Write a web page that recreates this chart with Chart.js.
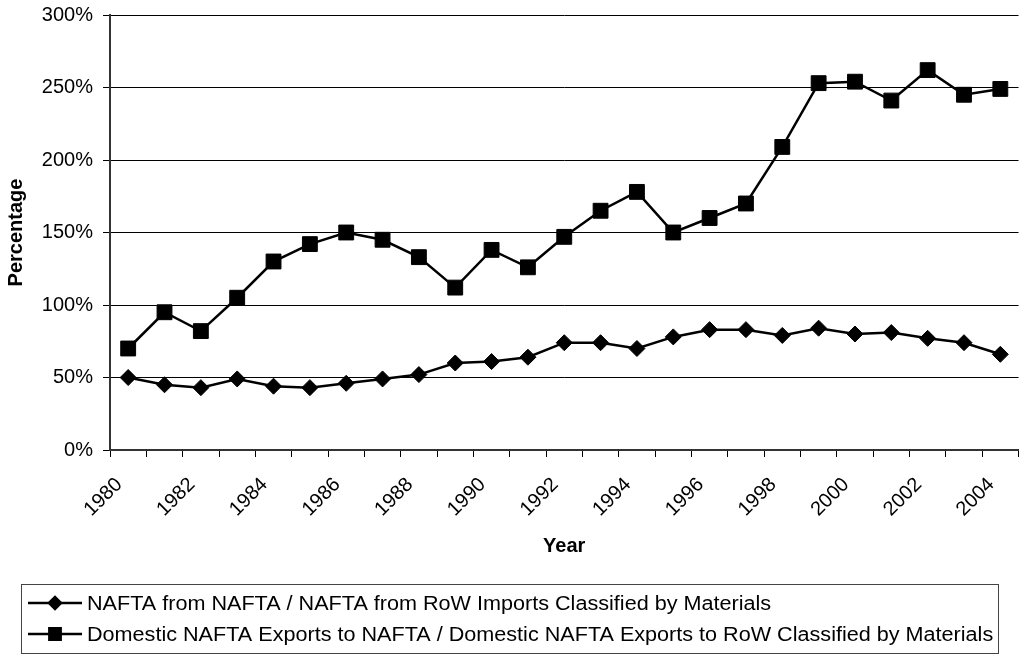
<!DOCTYPE html>
<html>
<head>
<meta charset="utf-8">
<script src="https://cdn.jsdelivr.net/npm/chart.js@4/dist/chart.umd.min.js"></script>
<style>
  html, body { margin: 0; padding: 0; background: #fff; overflow: hidden; }
  #wrap { width: 1019px; height: 654px; overflow: hidden; }
</style>
</head>
<body>
<div id="wrap"><canvas id="grafico" width="1030" height="654"></canvas></div>
<script>
// dados
const anos = ['1980', '1981', '1982', '1983', '1984', '1985', '1986', '1987', '1988', '1989',
              '1990', '1991', '1992', '1993', '1994', '1995', '1996', '1997', '1998', '1999',
              '2000', '2001', '2002', '2003', '2004'];

const importsNafta = [50, 45, 43, 49, 44, 43, 46, 49, 52, 60,
                      61, 64, 74, 74, 70, 78, 83, 83, 79, 84,
                      80, 81, 77, 74, 66];

const exportsNafta = [70, 95, 82, 105, 130, 142, 150, 145, 133, 112,
                      138, 126, 147, 165, 178, 150, 160, 170, 209, 253,
                      254, 241, 262, 245, 249];

const ticksY = [0, 50, 100, 150, 200, 250, 300];

const nomesSeries = [
    'NAFTA from NAFTA / NAFTA from RoW Imports Classified by Materials',
    'Domestic NAFTA Exports to NAFTA / Domestic NAFTA Exports to RoW Classified by Materials'
];

const fonte = 'Arial, "Liberation Sans", sans-serif';

// legenda em caixa, desenhada à mão
const legendaCaixa = {
    id: 'legendaCaixa',
    afterDraw(chart) {
        const ctx = chart.ctx;
        ctx.save();
        ctx.strokeStyle = '#444';
        ctx.lineWidth = 1;
        ctx.strokeRect(21.5, 584.5, 977, 69);
        const linhas = [603, 634];
        chart.data.datasets.forEach((ds, i) => {
            const y = linhas[i];
            ctx.strokeStyle = '#000';
            ctx.lineWidth = 2.5;
            ctx.beginPath();
            ctx.moveTo(28, y);
            ctx.lineTo(82, y);
            ctx.stroke();
            Chart.helpers.drawPoint(ctx, {
                pointStyle: ds.pointStyle,
                radius: i === 0 ? 6 : 8,
                borderWidth: 1
            }, 55, y);
            ctx.fillStyle = '#000';
            ctx.fill();
            // texto levemente esticado na horizontal, como no original
            ctx.save();
            ctx.translate(87, y + 1);
            ctx.scale(1.08, 1);
            ctx.font = '20px ' + fonte;
            ctx.textBaseline = 'middle';
            ctx.textAlign = 'left';
            ctx.fillText(ds.label, 0, 0);
            ctx.restore();
        });
        ctx.restore();
    }
};

const ctx = document.getElementById('grafico');
new Chart(ctx, {
    type: 'line',
    data: {
        labels: anos,
        datasets: [
            {
                label: nomesSeries[0],
                data: importsNafta,
                borderColor: '#000',
                backgroundColor: '#000',
                borderWidth: 2.5,
                pointStyle: 'rectRot',
                pointRadius: 8,
                pointBorderWidth: 1,
                tension: 0
            },
            {
                label: nomesSeries[1],
                data: exportsNafta,
                borderColor: '#000',
                backgroundColor: '#000',
                borderWidth: 2.5,
                pointStyle: 'rect',
                pointRadius: 10.5,
                pointBorderWidth: 1,
                tension: 0
            }
        ]
    },
    options: {
        responsive: false,
        animation: false,
        layout: { padding: { left: 0, right: 7.5, top: 15, bottom: 94 } },
        plugins: {
            legend: { display: false },
            tooltip: { enabled: false }
        },
        scales: {
            x: {
                offset: true,
                afterFit(scale) {
                    scale.height = 110;
                    scale.paddingLeft = 0;
                    scale.paddingRight = 0;
                },
                border: { color: '#333', width: 2 },
                grid: {
                    offset: true,
                    drawOnChartArea: false,
                    color: '#000',
                    tickLength: 7
                },
                ticks: {
                    autoSkip: false,
                    minRotation: 45,
                    maxRotation: 45,
                    padding: 16,
                    labelOffset: -9,
                    color: '#000',
                    font: { family: fonte, size: 20 },
                    callback: function (val, idx) {
                        return idx % 2 === 0 ? this.getLabelForValue(val) : '';
                    }
                },
                title: {
                    display: true,
                    text: 'Year',
                    color: '#000',
                    font: { family: fonte, size: 20, weight: 'bold' },
                    padding: { top: 0, bottom: 2 }
                }
            },
            y: {
                min: 0,
                max: 300,
                afterFit(scale) {
                    scale.width = 110;
                    scale.paddingTop = 0;
                    scale.paddingBottom = 0;
                },
                afterBuildTicks(scale) {
                    scale.ticks = ticksY.map(v => ({ value: v }));
                },
                border: { color: '#333', width: 2 },
                grid: {
                    color: '#000',
                    lineWidth: 1,
                    tickLength: 7
                },
                ticks: {
                    padding: 10,
                    color: '#000',
                    font: { family: fonte, size: 20 },
                    callback: v => v + '%'
                },
                title: {
                    display: true,
                    text: 'Percentage',
                    color: '#000',
                    font: { family: fonte, size: 20, weight: 'bold' },
                    padding: { top: 4, bottom: 0 }
                }
            }
        }
    },
    plugins: [legendaCaixa]
});
</script>
</body>
</html>
